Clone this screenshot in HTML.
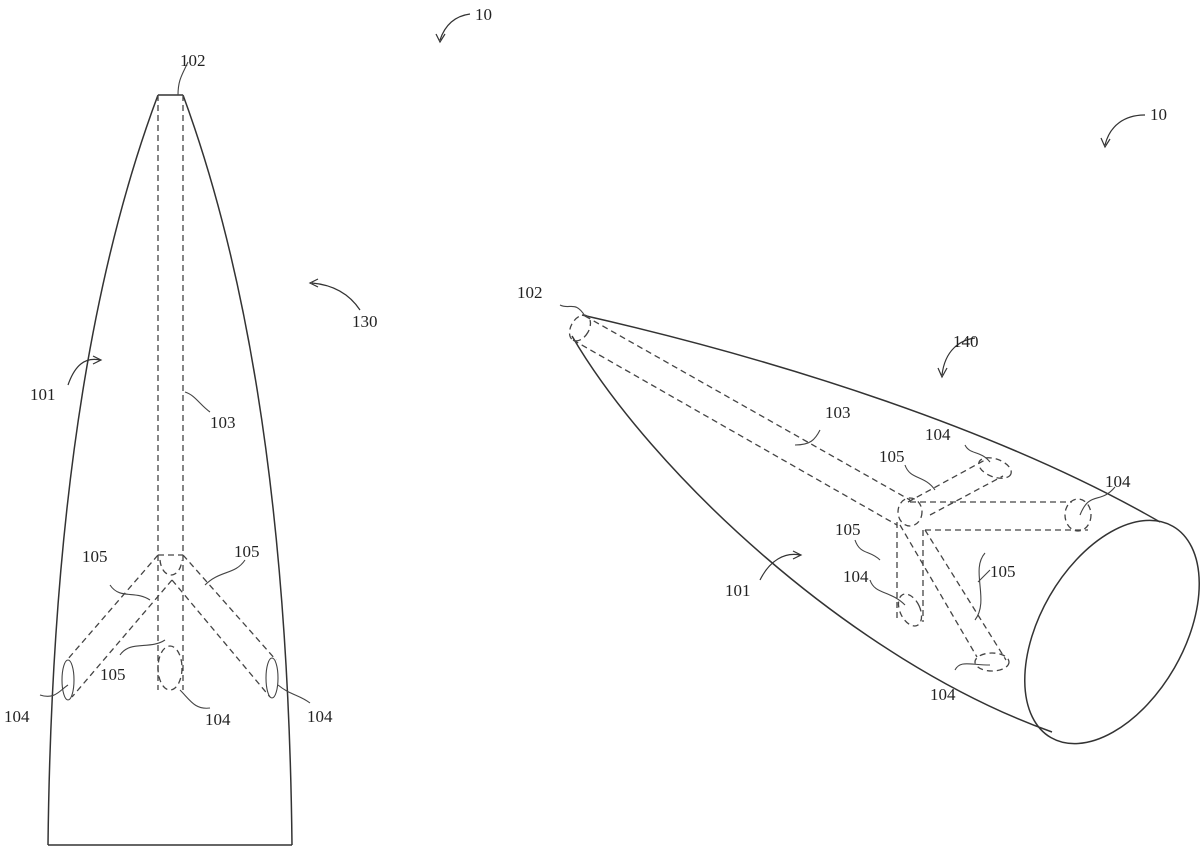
<!DOCTYPE html>
<html><head><meta charset="utf-8"><style>
html,body{margin:0;padding:0;background:#fff;}
svg{display:block}
text{font-family:"Liberation Serif",serif;font-size:17px;fill:#222}
</style></head><body>
<svg width="1200" height="849" viewBox="0 0 1200 849" xmlns="http://www.w3.org/2000/svg">
<g fill="none" stroke="#333" stroke-width="1.5">
<!-- left body -->
<path d="M158,95 L183,95"/>
<path d="M158,95 C100,250 52,480 48,845"/>
<path d="M183,95 C240,250 288,480 292,845"/>
<path d="M48,845 L292,845"/>
<!-- right body -->
<path d="M582,315 C780,360 1000,430 1160,522"/>
<path d="M572,336 C650,470 850,660 1052,732"/>
<ellipse cx="1112" cy="632" rx="122" ry="72" transform="rotate(-60 1112 632)"/>
</g>
<g fill="none" stroke="#444" stroke-width="1.3" stroke-dasharray="6,4">
<!-- left tubes -->
<path d="M158,95 L158,690"/>
<path d="M183,95 L183,690"/>
<path d="M158,555 L183,555"/>
<path d="M158,555 L67,660"/>
<path d="M172,580 L72,697"/>
<path d="M183,555 L276,660"/>
<path d="M172,580 L270,697"/>
<ellipse cx="170" cy="668" rx="12" ry="22"/>
<path d="M160,560 C162,580 180,580 182,560"/>
<!-- right tubes -->
<path d="M585,316 L910,500"/>
<path d="M573,340 L897,525"/>
<ellipse cx="580" cy="328" rx="9" ry="14" transform="rotate(30 580 328)"/>
<ellipse cx="910" cy="512" rx="12" ry="14"/>
<path d="M908,502 L985,460"/>
<path d="M930,515 L1003,476"/>
<path d="M910,502 L1072,502"/>
<path d="M925,530 L1088,530"/>
<path d="M897,522 L897,622"/>
<path d="M923,530 L923,622"/>
<path d="M900,525 L977,657"/>
<path d="M925,530 L1006,660"/>
<ellipse cx="995" cy="468" rx="17" ry="9" transform="rotate(20 995 468)"/>
<ellipse cx="1078" cy="515" rx="13" ry="16"/>
<ellipse cx="910" cy="610" rx="10" ry="17" transform="rotate(-25 910 610)"/>
<ellipse cx="992" cy="662" rx="17" ry="9"/>
</g>
<g fill="none" stroke="#444" stroke-width="1.1">
<ellipse cx="68" cy="680" rx="6" ry="20"/>
<ellipse cx="272" cy="678" rx="6" ry="20"/>
<!-- leaders -->
<path d="M188,62 C182,75 178,80 178,95"/>
<path d="M40,695 C55,700 60,690 68,685"/>
<path d="M310,703 C300,695 290,695 278,685"/>
<path d="M210,708 C195,710 190,700 180,690"/>
<path d="M210,412 C200,405 195,395 185,392"/>
<path d="M110,585 C120,600 135,590 150,600"/>
<path d="M245,560 C235,575 220,570 205,585"/>
<path d="M120,655 C130,640 150,650 165,640"/>
<path d="M560,305 C570,310 575,300 585,316"/>
<path d="M820,430 C815,440 810,445 795,445"/>
<path d="M965,445 C970,455 980,450 990,462"/>
<path d="M905,465 C910,480 925,475 935,490"/>
<path d="M855,540 C860,555 870,550 880,560"/>
<path d="M870,580 C875,595 890,590 905,605"/>
<path d="M1115,487 C1100,505 1090,490 1080,515"/>
<path d="M985,553 C970,570 990,600 975,620 M990,570 L978,582"/>
<path d="M955,670 C960,660 970,665 990,665"/>
</g>
<g fill="none" stroke="#333" stroke-width="1.2">
<path d="M470,14 C455,16 445,25 440,40"/><path d="M436,34 L440,42 L445,34"/>
<path d="M1145,115 C1125,115 1110,125 1105,145"/><path d="M1101,138 L1105,147 L1110,139"/>
<path d="M360,310 C350,295 335,285 312,283"/><path d="M318,279 L310,283 L318,287"/>
<path d="M975,338 C960,340 945,350 942,375"/><path d="M938,368 L942,377 L947,368"/>
<path d="M68,385 C75,365 85,357 100,360"/><path d="M93,356 L101,360 L93,364"/>
<path d="M760,580 C770,560 785,552 800,555"/><path d="M793,551 L801,555 L793,559"/>
</g>
<text x="475" y="20">10</text>
<text x="1150" y="120">10</text>
<text x="180" y="66">102</text>
<text x="517" y="298">102</text>
<text x="352" y="327">130</text>
<text x="953" y="347">140</text>
<text x="30" y="400">101</text>
<text x="725" y="596">101</text>
<text x="210" y="428">103</text>
<text x="825" y="418">103</text>
<text x="82" y="562">105</text>
<text x="234" y="557">105</text>
<text x="100" y="680">105</text>
<text x="879" y="462">105</text>
<text x="835" y="535">105</text>
<text x="990" y="577">105</text>
<text x="4" y="722">104</text>
<text x="205" y="725">104</text>
<text x="307" y="722">104</text>
<text x="925" y="440">104</text>
<text x="1105" y="487">104</text>
<text x="843" y="582">104</text>
<text x="930" y="700">104</text>
</svg>
</body></html>
